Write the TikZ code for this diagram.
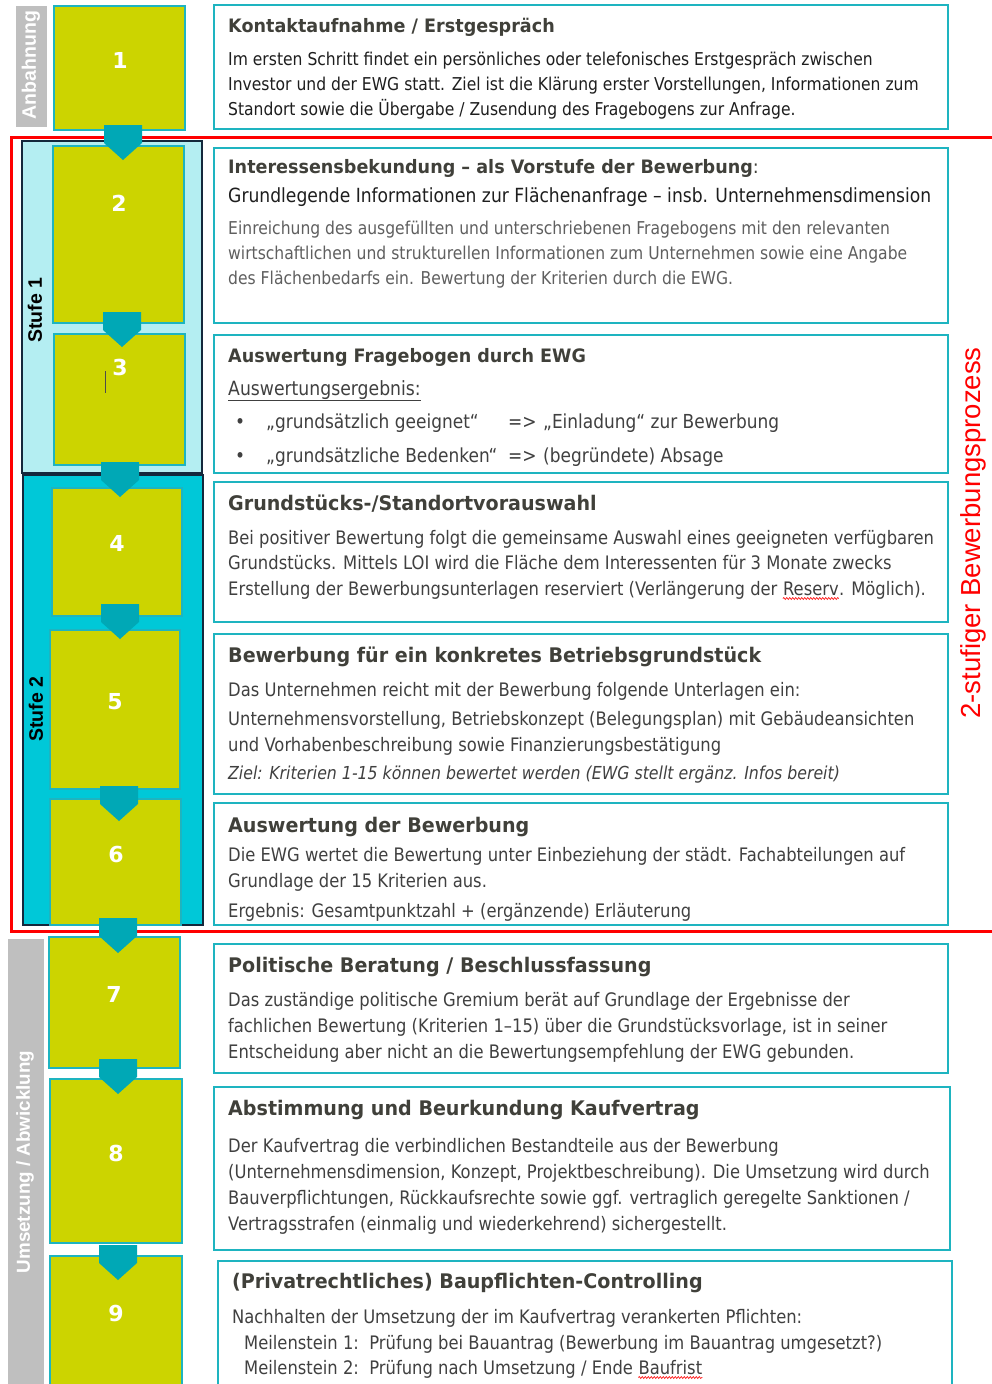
\documentclass[tikz,border=0pt]{standalone}
\usepackage{fontspec}
\setmainfont{DejaVu Sans}[FakeStretch=0.88]
\newfontfamily\ttlf{DejaVu Sans}[FakeStretch=0.95]
\newfontfamily\arialf{Liberation Sans}
\newfontfamily\numf{DejaVu Sans}
\usetikzlibrary{decorations.pathmorphing}
\definecolor{lime}{RGB}{204,212,0}
\definecolor{tealb}{RGB}{30,180,192}
\definecolor{arrowc}{RGB}{0,168,182}
\definecolor{stufeA}{RGB}{180,238,242}
\definecolor{stufeB}{RGB}{0,200,216}
\definecolor{navy}{RGB}{20,40,60}
\definecolor{greybar}{RGB}{191,191,191}
\definecolor{titlec}{RGB}{64,64,58}
\definecolor{bodyc}{RGB}{64,64,64}
\definecolor{bodyk}{RGB}{30,30,30}
\definecolor{bodyg}{RGB}{95,95,95}
\tikzset{
  stepbox/.style={draw=tealb, line width=1.5pt, fill=lime},
  txtbox/.style={draw=tealb, line width=1.8pt, fill=white},
  numtxt/.style={text=white, font=\numf\fontsize{22}{24}\selectfont\bfseries, inner sep=0},
  chev/.style={fill=arrowc, draw=none},
  ttl/.style={anchor=base west, inner sep=0, text=titlec, font=\ttlf\fontsize{18.5}{22}\selectfont\bfseries},
  ttlb/.style={ttl, font=\ttlf\fontsize{20.1}{24}\selectfont\bfseries},
  bdy/.style={anchor=base west, inner sep=0, text=bodyc, font=\fontsize{17.7}{20}\selectfont},
  bdyb/.style={bdy, font=\fontsize{18.6}{21}\selectfont},
  side/.style={inner sep=0, rotate=90, font=\arialf\fontsize{19.5}{21}\selectfont\bfseries},
  squig/.style={red, line width=0.6pt, decorate, decoration={snake, amplitude=1pt, segment length=3pt}}
}
\newcommand{\chevron}[2]{% center x, top y
  \fill[chev] (#1-19,#2) -- (#1+19,#2) -- (#1+19,#2+18) -- (#1,#2+35) -- (#1-19,#2+18) -- cycle;}
\begin{document}
\begin{tikzpicture}[x=1pt,y=-1pt]
\useasboundingbox (0,0) rectangle (992,1384);
% stage backgrounds
\draw[navy, line width=1.2pt, fill=stufeA] (22,141) rectangle (202,473);
\draw[navy, line width=1.2pt, fill=stufeB] (23,475) rectangle (203,925);
\fill[greybar] (16,6) rectangle (47,127);
\fill[greybar] (8,939) rectangle (44,1390);
\node[side, text=white] (lab0) at (31,65) {Anbahnung};
\node[side, text=white, font=\arialf\fontsize{18.8}{21}\selectfont\bfseries] (lab3) at (25,1162) {Umsetzung / Abwicklung};
\node[side, text=black] (lab1) at (35,310) {Stufe 1};
\node[side, text=black] (lab2) at (36,709) {Stufe 2};
% step boxes
\draw[stepbox] (54,6) rectangle (185,130);
\draw[stepbox] (53,146) rectangle (184,323);
\draw[stepbox] (54,334) rectangle (185,465);
\draw[stepbox] (52,488) rectangle (182,616);
\draw[stepbox] (50,630) rectangle (180,789);
\draw[stepbox] (50,799) rectangle (181,925);
\draw[stepbox] (49,937) rectangle (180,1068);
\draw[stepbox] (50,1079) rectangle (182,1243);
\draw[stepbox] (50,1256) rectangle (182,1390);
\node[numtxt] (n1) at (120,60) {1};
\node[numtxt] (n2) at (119,203) {2};
\node[numtxt] (n3) at (120,367) {3};
\node[numtxt] (n4) at (117,543) {4};
\node[numtxt] (n5) at (115,702) {5};
\node[numtxt] (n6) at (116,854) {6};
\node[numtxt] (n7) at (114,994) {7};
\node[numtxt] (n8) at (116,1153) {8};
\node[numtxt] (n9) at (116,1313) {9};
\draw[black!70, line width=0.8pt] (105,371) -- (105,393);
% red frame
\draw[red, line width=3pt] (11,137) rectangle (1010,931);
% chevrons
\chevron{123}{125}
\chevron{122}{312}
\chevron{120}{462}
\chevron{120}{604}
\chevron{119}{786}
\chevron{118}{918}
\chevron{118}{1059}
\chevron{118}{1245}
% text boxes
\draw[txtbox] (214,5) rectangle (948,129);
\draw[txtbox] (214,148) rectangle (948,323);
\draw[txtbox] (214,335) rectangle (948,473);
\draw[txtbox] (214,482) rectangle (948,622);
\draw[txtbox] (214,634) rectangle (948,794);
\draw[txtbox] (214,803) rectangle (948,925);
\draw[txtbox] (214,944) rectangle (948,1073);
\draw[txtbox] (214,1087) rectangle (950,1250);
\draw[txtbox] (218,1261) rectangle (952,1395);
% T1
\node[ttl] (h1) at (228,32) {Kontaktaufnahme / Erstgespräch};
\node[bdy, text=bodyk] (t1a) at (228,65) {Im ersten Schritt findet ein persönliches oder telefonisches Erstgespräch zwischen};
\node[bdy, text=bodyk] (t1b) at (228,90) {Investor und der EWG statt. Ziel ist die Klärung erster Vorstellungen, Informationen zum};
\node[bdy, text=bodyk] (t1c) at (228,115) {Standort sowie die Übergabe / Zusendung des Fragebogens zur Anfrage.};
% T2
\node[ttl] (h2) at (228,173) {Interessensbekundung – als Vorstufe der Bewerbung\mdseries:};
\node[bdy, text=bodyk, font=\fontsize{19.5}{22}\selectfont] (s2) at (228,202) {Grundlegende Informationen zur Flächenanfrage – insb. Unternehmensdimension};
\node[bdy, text=bodyg] (t2a) at (228,234) {Einreichung des ausgefüllten und unterschriebenen Fragebogens mit den relevanten};
\node[bdy, text=bodyg] (t2b) at (228,259) {wirtschaftlichen und strukturellen Informationen zum Unternehmen sowie eine Angabe};
\node[bdy, text=bodyg] (t2c) at (228,284) {des Flächenbedarfs ein. Bewertung der Kriterien durch die EWG.};
% T3
\node[ttl] (h3) at (228,362) {Auswertung Fragebogen durch EWG};
\node[bdy, font=\fontsize{19.6}{22}\selectfont] (t3a) at (228,395) {\underline{Auswertungsergebnis:}};
\node[bdy, font=\fontsize{19.3}{22}\selectfont] (b1) at (235,428) {•};
\node[bdy, font=\fontsize{19.3}{22}\selectfont] (t3b) at (266,428) {„grundsätzlich geeignet“};
\node[bdy, font=\fontsize{19.3}{22}\selectfont] (t3c) at (508,428) {=>};
\node[bdy, font=\fontsize{19.3}{22}\selectfont] (t3d) at (543,428) {„Einladung“ zur Bewerbung};
\node[bdy, font=\fontsize{19.3}{22}\selectfont] (b2) at (235,462) {•};
\node[bdy, font=\fontsize{19.3}{22}\selectfont] (t3e) at (266,462) {„grundsätzliche Bedenken“};
\node[bdy, font=\fontsize{19.3}{22}\selectfont] (t3f) at (508,462) {=>};
\node[bdy, font=\fontsize{19.3}{22}\selectfont] (t3g) at (543,462) {(begründete) Absage};
% T4
\node[ttlb] (h4) at (228,510) {Grundstücks-/Standortvorauswahl};
\node[bdyb] (t4a) at (228,544) {Bei positiver Bewertung folgt die gemeinsame Auswahl eines geeigneten verfügbaren};
\node[bdyb] (t4b) at (228,569) {Grundstücks. Mittels LOI wird die Fläche dem Interessenten für 3 Monate zwecks};
\node[bdyb] (t4c) at (228,595) {Erstellung der Bewerbungsunterlagen reserviert (Verlängerung der};
\node[bdyb] (t4d) at ([xshift=5.2pt]t4c.base east) {Reserv};
\node[bdyb] (t4e) at (t4d.base east) {. Möglich).};
\draw[squig] ([yshift=-3.5pt]t4d.base west) -- ([yshift=-3.5pt]t4d.base east);
% T5
\node[ttlb] (h5) at (228,662) {Bewerbung für ein konkretes Betriebsgrundstück};
\node[bdyb] (t5a) at (228,696) {Das Unternehmen reicht mit der Bewerbung folgende Unterlagen ein:};
\node[bdyb] (t5b) at (228,725) {Unternehmensvorstellung, Betriebskonzept (Belegungsplan) mit Gebäudeansichten};
\node[bdyb] (t5c) at (228,751) {und Vorhabenbeschreibung sowie Finanzierungsbestätigung};
\node[bdy, font=\fontsize{17.9}{20}\selectfont\itshape] (t5d) at (228,779) {Ziel: Kriterien 1-15 können bewertet werden (EWG stellt ergänz. Infos bereit)};
% T6
\node[ttlb] (h6) at (228,832) {Auswertung der Bewerbung};
\node[bdyb] (t6a) at (228,861) {Die EWG wertet die Bewertung unter Einbeziehung der städt. Fachabteilungen auf};
\node[bdyb] (t6b) at (228,887) {Grundlage der 15 Kriterien aus.};
\begin{scope}
\clip (215,895) rectangle (947,920);
\node[bdyb] (t6c) at (228,917) {Ergebnis: Gesamtpunktzahl + (ergänzende) Erläuterung};
\end{scope}
% T7
\node[ttlb] (h7) at (228,972) {Politische Beratung / Beschlussfassung};
\node[bdyb] (t7a) at (228,1006) {Das zuständige politische Gremium berät auf Grundlage der Ergebnisse der};
\node[bdyb] (t7b) at (228,1032) {fachlichen Bewertung (Kriterien 1–15) über die Grundstücksvorlage, ist in seiner};
\node[bdyb] (t7c) at (228,1058) {Entscheidung aber nicht an die Bewertungsempfehlung der EWG gebunden.};
% T8
\node[ttlb] (h8) at (228,1115) {Abstimmung und Beurkundung Kaufvertrag};
\node[bdyb] (t8a) at (228,1152) {Der Kaufvertrag die verbindlichen Bestandteile aus der Bewerbung};
\node[bdyb] (t8b) at (228,1178) {(Unternehmensdimension, Konzept, Projektbeschreibung). Die Umsetzung wird durch};
\node[bdyb] (t8c) at (228,1204) {Bauverpflichtungen, Rückkaufsrechte sowie ggf. vertraglich geregelte Sanktionen /};
\node[bdyb] (t8d) at (228,1230) {Vertragsstrafen (einmalig und wiederkehrend) sichergestellt.};
% T9
\node[ttlb] (h9) at (232,1288) {(Privatrechtliches) Baupflichten-Controlling};
\node[bdyb] (t9a) at (232,1323) {Nachhalten der Umsetzung der im Kaufvertrag verankerten Pflichten:};
\node[bdyb] (t9b) at (244,1349) {Meilenstein 1:\ \ Prüfung bei Bauantrag (Bewerbung im Bauantrag umgesetzt?)};
\node[bdyb] (t9c) at (244,1374) {Meilenstein 2:\ \ Prüfung nach Umsetzung / Ende};
\node[bdyb] (t9d) at ([xshift=5.2pt]t9c.base east) {Baufrist};
\draw[squig] ([yshift=-3.5pt]t9d.base west) -- ([yshift=-3.5pt]t9d.base east);
% side label
\node[inner sep=0, rotate=90, text=red, font=\arialf\fontsize{27.5}{30}\selectfont] (proc) at (973,533) {2-stufiger Bewerbungsprozess};
\end{tikzpicture}
\end{document}
